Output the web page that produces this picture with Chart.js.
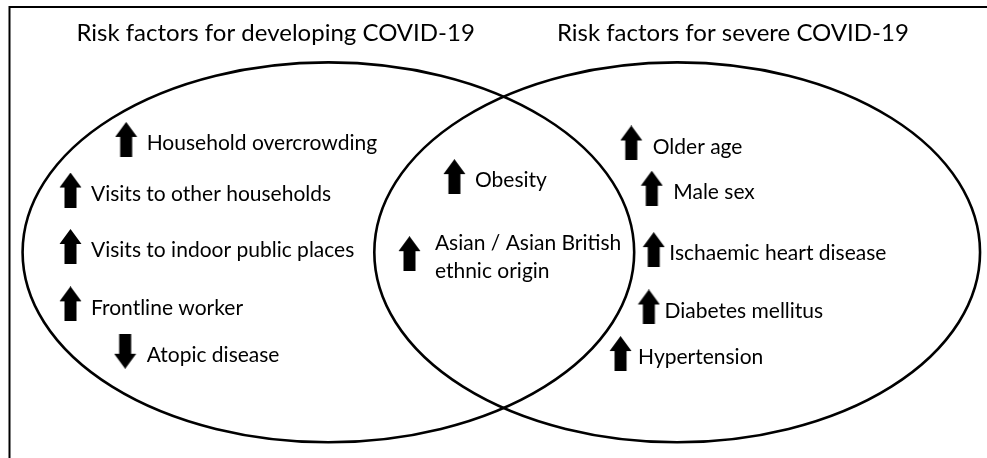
<!DOCTYPE html>
<html>
<head>
<meta charset="utf-8">
<script src="https://cdn.jsdelivr.net/npm/chart.js@4/dist/chart.umd.min.js"></script>
<style>
  html, body { margin: 0; padding: 0; background: #fff; }
  canvas { display: block; }
</style>
</head>
<body>
<canvas id="venn" width="987" height="458"></canvas>
<script>
// diagram units: x and y both run 0..100 across the panel (y downwards)
const setTitles = ['Risk factors for developing COVID-19', 'Risk factors for severe COVID-19'];
const titleX = [27.7, 74.5];
const titleY = [8.1, 8.1];

const factors = [
  'Household overcrowding',
  'Visits to other households',
  'Visits to indoor public places',
  'Frontline worker',
  'Atopic disease',
  'Obesity',
  ['Asian / Asian British', 'ethnic origin'],
  'Older age',
  'Male sex',
  'Ischaemic heart disease',
  'Diabetes mellitus',
  'Hypertension'
];
// +1 = increased risk, -1 = decreased risk
const factorEffect = [1, 1, 1, 1, -1, 1, 1, 1, 1, 1, 1, 1];
const factorX = [12.4, 6.7, 6.7, 6.7, 12.3, 46.0, 41.4, 64.1, 66.2, 66.4, 65.9, 63.0];
const factorY = [30.0, 41.3, 53.9, 66.7, 77.3, 38.3, 55.5, 30.8, 40.9, 54.6, 67.4, 77.8];
const labelX  = [14.5, 8.8, 8.8, 8.8, 14.5, 48.1, 44.0, 66.3, 68.4, 68.0, 67.5, 64.8];

// the two sets as ellipses (centre x, centre y, radius x, radius y)
const sets = [
  { cx: 33.1, cy: 55.2, rx: 31.3, ry: 42.4 },
  { cx: 68.8, cy: 55.2, rx: 31.0, ry: 42.4 }
];

const fontFamily = 'Lato, "Open Sans", sans-serif';

function makeArrow(down) {
  const c = document.createElement('canvas');
  c.width = 23;
  c.height = 35;
  const g = c.getContext('2d');
  if (down) {
    g.translate(0, 35);
    g.scale(1, -1);
  }
  g.fillStyle = '#000';
  g.beginPath();
  g.moveTo(11.5, 0);
  g.lineTo(22.5, 15);
  g.lineTo(17.5, 15);
  g.lineTo(17.5, 35);
  g.lineTo(5.5, 35);
  g.lineTo(5.5, 15);
  g.lineTo(0.5, 15);
  g.closePath();
  g.fill();
  return c;
}
const upArrow = makeArrow(false);
const downArrow = makeArrow(true);

const vennPlugin = {
  id: 'venn',
  beforeDatasetsDraw(chart) {
    const { ctx } = chart;
    const xs = chart.scales.x, ys = chart.scales.y;
    ctx.save();
    // outer frame (runs off the right and bottom edges)
    ctx.strokeStyle = '#000';
    ctx.lineWidth = 2;
    ctx.strokeRect(9.5, 7, 1000, 500);
    // ellipses
    ctx.lineWidth = 2.6;
    sets.forEach(s => {
      const cx = xs.getPixelForValue(s.cx);
      const cy = ys.getPixelForValue(s.cy);
      const rx = Math.abs(xs.getPixelForValue(s.cx + s.rx) - cx);
      const ry = Math.abs(ys.getPixelForValue(s.cy + s.ry) - cy);
      ctx.beginPath();
      ctx.ellipse(cx, cy, rx, ry, 0, 0, Math.PI * 2);
      ctx.stroke();
    });
    // titles
    ctx.fillStyle = '#000';
    ctx.font = '24px ' + fontFamily;
    ctx.textAlign = 'center';
    ctx.textBaseline = 'alphabetic';
    setTitles.forEach((t, i) => {
      ctx.fillText(t, xs.getPixelForValue(titleX[i]), ys.getPixelForValue(titleY[i]));
    });
    ctx.restore();
  },
  afterDatasetsDraw(chart) {
    const { ctx } = chart;
    const xs = chart.scales.x, ys = chart.scales.y;
    ctx.save();
    ctx.fillStyle = '#000';
    ctx.font = '21px ' + fontFamily;
    ctx.textAlign = 'left';
    ctx.textBaseline = 'middle';
    factors.forEach((f, i) => {
      const lines = Array.isArray(f) ? f : [f];
      const x = xs.getPixelForValue(labelX[i]);
      const yc = ys.getPixelForValue(factorY[i]) + 4;
      const lh = 28;
      lines.forEach((l, j) => {
        ctx.fillText(l, x, yc + (j - (lines.length - 1) / 2) * lh);
      });
    });
    ctx.restore();
  }
};

new Chart(document.getElementById('venn'), {
  type: 'scatter',
  data: {
    datasets: [{
      label: 'Risk factors',
      data: factorX.map((x, i) => ({ x: x, y: factorY[i] })),
      pointStyle: ctx => factorEffect[ctx.dataIndex] > 0 ? upArrow : downArrow,
      backgroundColor: '#000',
      borderColor: '#000'
    }]
  },
  options: {
    responsive: false,
    animation: false,
    layout: { padding: 0 },
    scales: {
      x: { type: 'linear', min: 0, max: 100, display: false },
      y: { type: 'linear', min: 0, max: 100, reverse: true, display: false }
    },
    plugins: {
      legend: { display: false },
      tooltip: { enabled: false }
    }
  },
  plugins: [vennPlugin]
});
</script>
</body>
</html>
